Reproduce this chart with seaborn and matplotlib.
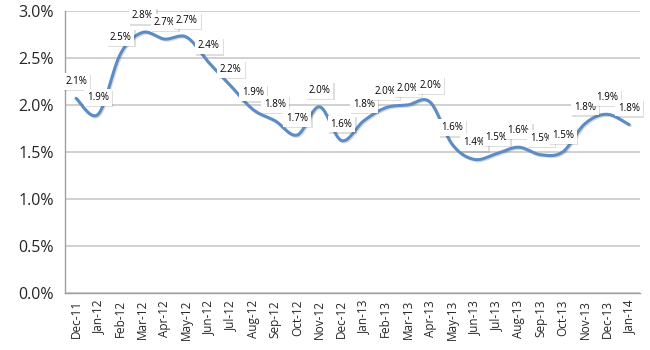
import numpy as np
import pandas as pd
import matplotlib
matplotlib.use("Agg")
import matplotlib.pyplot as plt
import matplotlib.patheffects as pe
import seaborn as sns

months = ["Dec-11", "Jan-12", "Feb-12", "Mar-12", "Apr-12", "May-12", "Jun-12", "Jul-12",
          "Aug-12", "Sep-12", "Oct-12", "Nov-12", "Dec-12", "Jan-13", "Feb-13", "Mar-13",
          "Apr-13", "May-13", "Jun-13", "Jul-13", "Aug-13", "Sep-13", "Oct-13", "Nov-13",
          "Dec-13", "Jan-14"]
rates = [2.07, 1.90, 2.54, 2.77, 2.70, 2.72, 2.45, 2.20, 1.95, 1.83, 1.68, 1.98, 1.62,
         1.83, 1.97, 2.00, 2.03, 1.58, 1.42, 1.48, 1.55, 1.47, 1.50, 1.80, 1.90, 1.79]
labels = ["2.1%", "1.9%", "2.5%", "2.8%", "2.7%", "2.7%", "2.4%", "2.2%", "1.9%", "1.8%",
          "1.7%", "2.0%", "1.6%", "1.8%", "2.0%", "2.0%", "2.0%", "1.6%", "1.4%", "1.5%",
          "1.6%", "1.5%", "1.5%", "1.8%", "1.9%", "1.8%"]
yticks = [0.0, 0.5, 1.0, 1.5, 2.0, 2.5, 3.0]


def smooth(x, y, n=20):
    # Catmull-Rom style smoothing like Excel's smoothed line
    x = np.asarray(x, float)
    y = np.asarray(y, float)
    px = np.concatenate([[x[0]], x, [x[-1]]])
    py = np.concatenate([[y[0]], y, [y[-1]]])
    xs, ys = [], []
    for i in range(1, len(px) - 2):
        p0, p1, p2, p3 = (np.array([px[j], py[j]]) for j in (i - 1, i, i + 1, i + 2))
        c1 = p1 + (p2 - p0) / 6
        c2 = p2 - (p3 - p1) / 6
        t = np.linspace(0, 1, n, endpoint=(i == len(px) - 3))[:, None]
        pts = ((1 - t) ** 3) * p1 + 3 * ((1 - t) ** 2) * t * c1 + 3 * (1 - t) * t ** 2 * c2 + t ** 3 * p2
        xs.extend(pts[:, 0])
        ys.extend(pts[:, 1])
    return np.array(xs), np.array(ys)


sns.set_style("white")
plt.rcParams["font.family"] = ["Open Sans", "DejaVu Sans"]

fig = plt.figure(figsize=(6.5, 3.5), dpi=100)
ax = fig.add_axes([0.1, 0.163, 0.885, 0.806])

xi = np.arange(len(months))
sx, sy = smooth(xi, rates)
df = pd.DataFrame({"x": sx, "y": sy})
line_color = "#5B8CC6"
sns.lineplot(data=df, x="x", y="y", ax=ax, color=line_color, linewidth=2.2, sort=False,
             estimator=None)
ax.lines[0].set_path_effects([pe.SimpleLineShadow(offset=(0.8, -0.8), shadow_color="black", alpha=0.15),
                              pe.Normal()])

for i, (v, lab) in enumerate(zip(rates, labels)):
    t = ax.annotate(lab, (i, v), xytext=(0, 8), textcoords="offset points",
                    ha="center", va="bottom", fontsize=7, color="black",
                    bbox=dict(boxstyle="square,pad=0.3", fc="white", ec="none"))
    t.get_bbox_patch().set_path_effects([pe.SimplePatchShadow(offset=(1.0, -1.0), alpha=0.18),
                                        pe.Normal()])

ax.set_xlim(-0.5, len(months) - 0.5)
ax.set_ylim(0, 3.0)
ax.set_yticks(yticks)
ax.set_yticklabels([f"{t:.1f}%" for t in yticks], fontsize=11.5)
ax.set_xticks(xi)
ax.set_xticklabels(months, rotation=90, fontsize=8.5)
ax.set_xticks(np.arange(-0.5, len(months)), minor=True)
ax.tick_params(axis="x", which="major", length=0, pad=5)
ax.tick_params(axis="x", which="minor", length=4, color="#A0A0A0", width=1, direction="out")
ax.tick_params(axis="y", length=4, color="#A0A0A0", width=1, direction="out", pad=4)
ax.set_xlabel("")
ax.set_ylabel("")
ax.yaxis.grid(True, color="#C8C8C8", linewidth=1.2)
ax.set_axisbelow(True)
for s in ["top", "right"]:
    ax.spines[s].set_visible(False)
for s in ["left", "bottom"]:
    ax.spines[s].set_color("#A0A0A0")
    ax.spines[s].set_linewidth(1)

fig.savefig("out.png", dpi=100)
